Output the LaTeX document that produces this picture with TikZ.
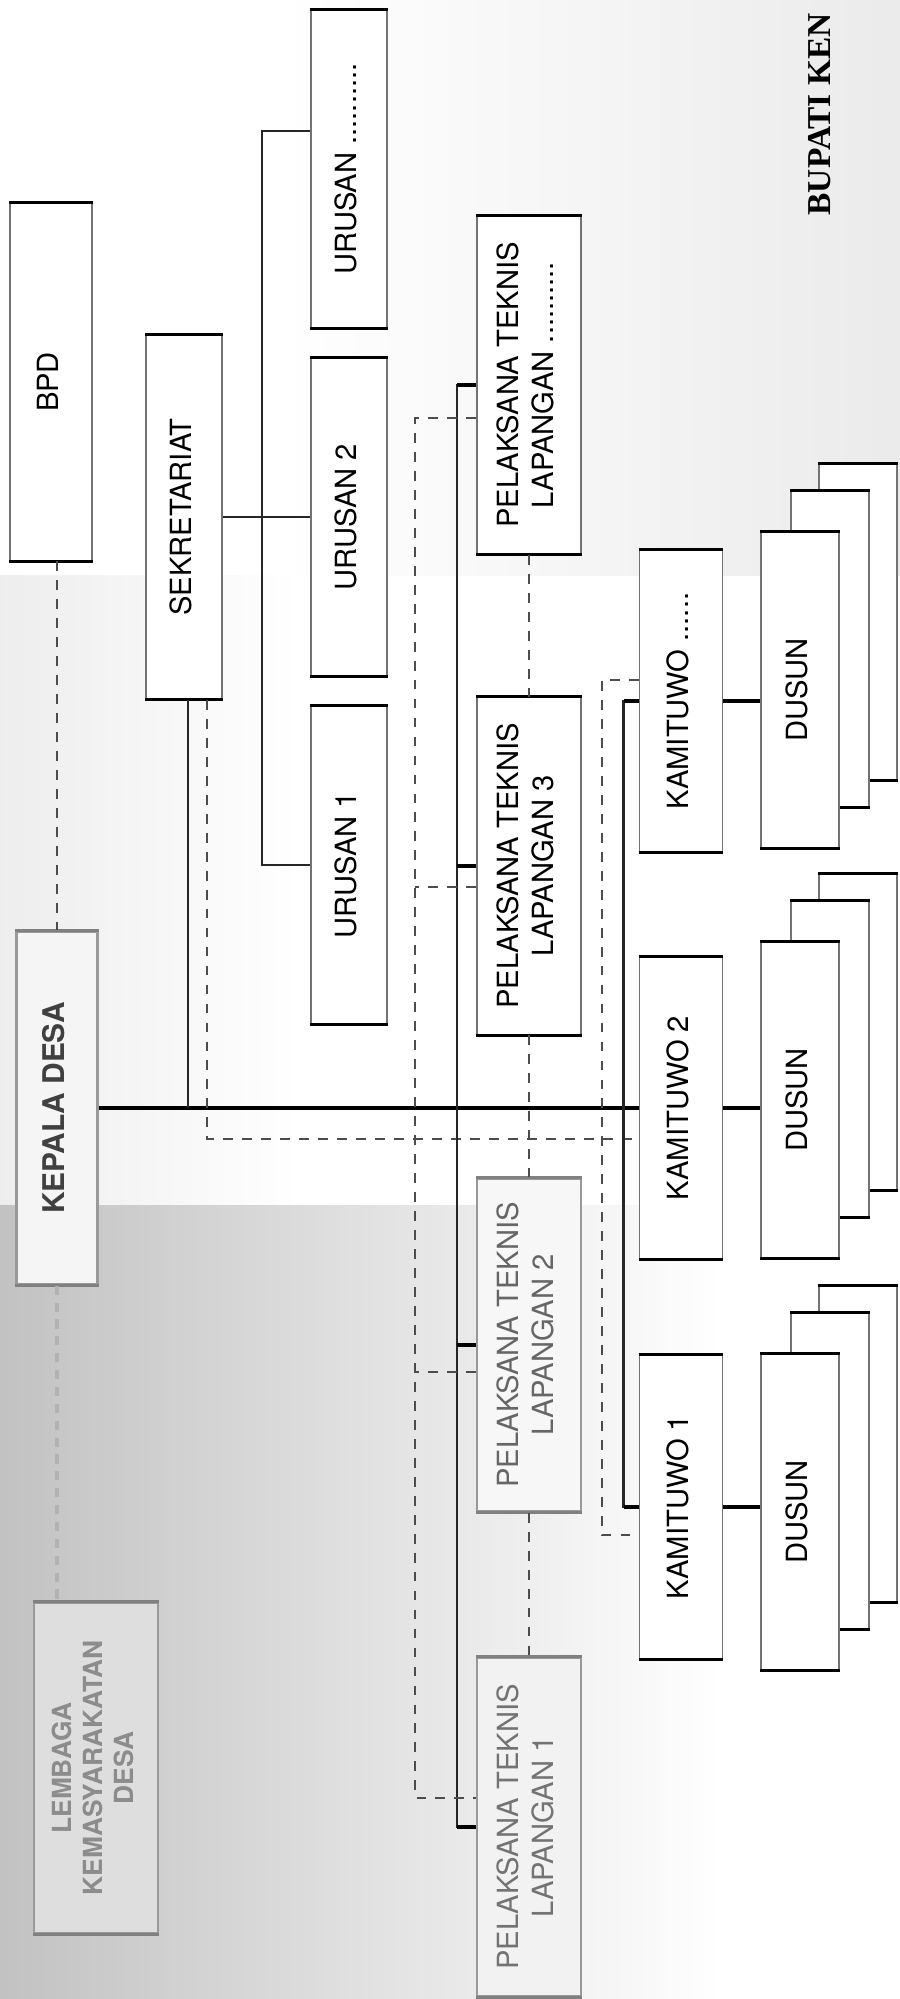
\documentclass[tikz,border=0pt]{standalone}
\usepackage{fontspec}
\setmainfont{TeX Gyre Heros}
\newfontfamily\bupatifont{Liberation Serif}
\usepackage{graphicx}
\usepackage{tikz}

\newcommand{\vlabel}[1]{\rotatebox{90}{\begin{tabular}{@{}c@{}}#1\end{tabular}}}

\tikzset{
  boxdims/.style 2 args={fill=white, inner sep=0pt, minimum width=#1*0.1mm, minimum height=#2*0.1mm,
    font=\fontsize{8.3}{10}\selectfont},
  capedges/.style={append after command={(\tikzlastnode.north west) edge[draw=#1, line width=0.85pt] (\tikzlastnode.north east)
    (\tikzlastnode.south west) edge[draw=#1, line width=0.85pt] (\tikzlastnode.south east)}},
  orgbox/.style 2 args={boxdims={#1}{#2}, draw=black!55, line width=0.5pt, capedges=black},
  fadebox/.style 2 args={boxdims={#1}{#2}, draw=black!40, line width=0.7pt, text=black!55, capedges=black!50},
  conn/.style={draw=black!85, line width=0.7pt},
  stub/.style={draw=black, line width=1.4pt},
  mainline/.style={draw=black, line width=1.1pt},
  dashline/.style={draw=black!70, line width=0.55pt, dash pattern=on 2.8pt off 2.6pt},
  fadedash/.style={draw=black!30, line width=1.2pt, dash pattern=on 2.6pt off 2.2pt}
}

\begin{document}
\begin{tikzpicture}[x=0.1mm, y=-0.1mm]
  \useasboundingbox (0,0) rectangle (900,1999);
  % scan shading
  \shade[left color=white, right color=black!8] (280,0) rectangle (900,575);
  \shade[left color=black!7, right color=white] (0,575) rectangle (300,1205);
  \shade[left color=black!24, right color=white] (0,1205) rectangle (720,1999);

  % Left column
  \node[orgbox={82}{357}] (bpd) at (51,382) {\vlabel{BPD}};
  \node[fadebox={81}{353}, fill=black!4, text=black!75, font=\bfseries\fontsize{8.5}{10}\selectfont] (kepala) at (57,1108) {\vlabel{KEPALA DESA}};
  \node[fadebox={124}{330}, fill=black!13, text=black!45, font=\bfseries\fontsize{7.5}{8.8}\selectfont] (lembaga) at (96,1768)
    {\vlabel{LEMBAGA\\KEMASYARAKATAN\\DESA}};

  % Sekretariat and urusan
  \node[orgbox={76}{364}] (sekretariat) at (184,517) {\vlabel{SEKRETARIAT}};
  \node[orgbox={76}{318}] (urusanX) at (349,169) {\vlabel{URUSAN ..........}};
  \node[orgbox={76}{318}] (urusan2) at (349,517) {\vlabel{URUSAN 2}};
  \node[orgbox={76}{318}] (urusan1) at (349,865) {\vlabel{URUSAN 1}};

  % Pelaksana teknis lapangan
  \node[orgbox={104}{338}] (ptlX) at (529,385) {\vlabel{PELAKSANA TEKNIS\\LAPANGAN ..........}};
  \node[orgbox={104}{337}] (ptl3) at (529,866) {\vlabel{PELAKSANA TEKNIS\\LAPANGAN 3}};
  \node[fadebox={104}{333}, fill=black!3, text=black!60] (ptl2) at (529,1345) {\vlabel{PELAKSANA TEKNIS\\LAPANGAN 2}};
  \node[fadebox={104}{338}, fill=black!5] (ptl1) at (529,1827) {\vlabel{PELAKSANA TEKNIS\\LAPANGAN 1}};

  % Kamituwo
  \node[orgbox={83}{302}] (kamituwoX) at (681,701) {\vlabel{KAMITUWO ......}};
  \node[orgbox={83}{302}] (kamituwo2) at (681,1108) {\vlabel{KAMITUWO 2}};
  \node[orgbox={83}{304}] (kamituwo1) at (681,1507) {\vlabel{KAMITUWO 1}};

  % Dusun, three stacked sheets each
  \foreach \g/\y in {X/690, 2/1100, 1/1512} {
    \node[orgbox={78}{315}] (dusunc\g) at (858,\y-68) {};
    \node[orgbox={78}{315}] (dusunb\g) at (830,\y-41) {};
    \node[orgbox={78}{315}] (dusun\g) at (800,\y) {\vlabel{DUSUN}};
  }

  \node[font=\bupatifont\bfseries\fontsize{9.5}{11}\selectfont, rotate=90, anchor=base west, inner sep=0pt]
    (bupati) at (830,216) {BUPATI KEN};

  % Connectors
  \draw[dashline] (kepala.north |- bpd.south) -- (kepala.north);
  \draw[fadedash] (kepala.south) -- (kepala.south |- lembaga.north);
  \draw[mainline] (kepala.east) -- (kamituwo2.west);

  \coordinate (sekline) at ([xshift=0.4mm]sekretariat.south);
  \coordinate (sekdash) at ([xshift=2.3mm]sekretariat.south);
  \draw[conn] (sekline) -- (sekline |- kepala.east);
  \draw[dashline] (sekdash) |- ([yshift=-3.1mm]kamituwo2.west);
  \draw[conn] (sekretariat.east) -- (urusan2.west);
  \draw[conn] ([yshift=3.8mm]urusanX.west) -- ++(-48,0) |- (urusan1.west);

  \draw[conn] (ptlX.west) -- ++(-19,0) |- (ptl1.west);
  \foreach \p in {ptlX,ptl3,ptl2,ptl1}
    \draw[stub] (\p.west) -- ++(-19,0);
  \draw[dashline] ([yshift=-3.3mm]ptlX.west) -- ++(-61,0) |- ([yshift=2.9mm]ptl1.west);
  \draw[dashline] ([yshift=-2.1mm]ptl3.west) -- ++(-61,0);
  \draw[dashline] ([yshift=-2.7mm]ptl2.west) -- ++(-61,0);
  \draw[dashline] (ptlX.south) -- (ptl3.north);
  \draw[dashline] (ptl3.south) -- (ptl2.north);
  \draw[dashline] (ptl2.south) -- (ptl1.north);

  \draw[conn] (kamituwoX.west) -- ++(-15,0) |- (kamituwo1.west);
  \foreach \k in {kamituwoX,kamituwo1}
    \draw[stub] (\k.west) -- ++(-15,0);
  \draw[dashline] ([yshift=2.1mm]kamituwoX.west) -- ++(-37,0) |- ([yshift=-2.8mm]kamituwo1.west);
  \foreach \g in {X,2,1}
    \draw[stub] (kamituwo\g.east) -- (kamituwo\g.east -| dusun\g.west);
\end{tikzpicture}
\end{document}
